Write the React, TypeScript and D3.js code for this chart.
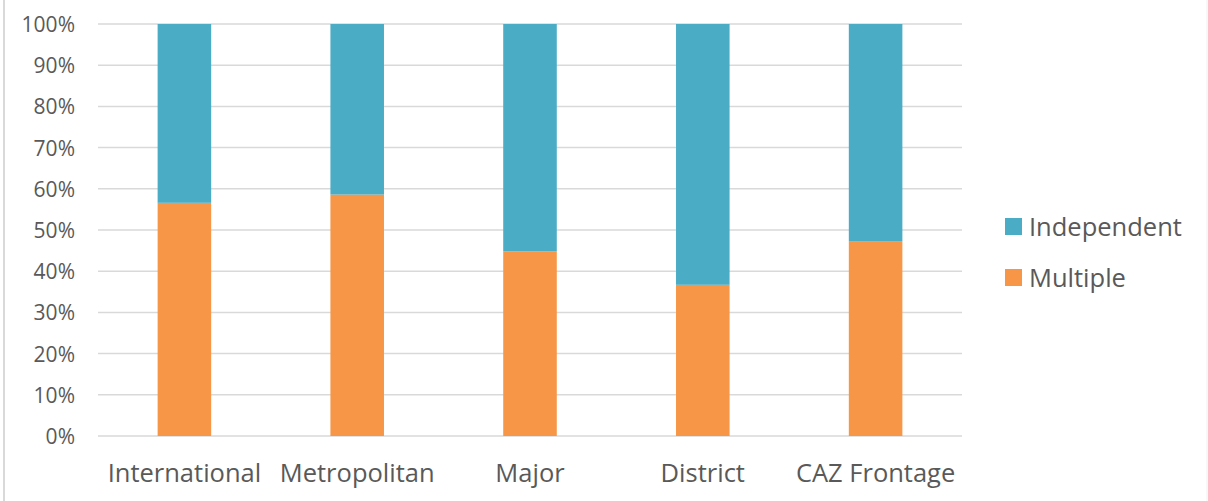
import React from "react";
import * as d3 from "d3";

const categories = ["International", "Metropolitan", "Major", "District", "CAZ Frontage"];
const multiple = [56.6, 58.6, 44.8, 36.7, 47.3];
const independent = [43.4, 41.4, 55.2, 63.3, 52.7];
const seriesKeys = ["multiple", "independent"];
const seriesNames = { multiple: "Multiple", independent: "Independent" };
const colors = { multiple: "#F79646", independent: "#4BACC6" };
const yTicks = [0, 10, 20, 30, 40, 50, 60, 70, 80, 90, 100];

const W = 1208;
const H = 501;
const plot = { left: 98, right: 962, top: 24, bottom: 436 };
const font = "'Open Sans', Lato, sans-serif";
const textColor = "#595959";

export default function App() {
  const rows = categories.map((c, i) => ({
    category: c,
    multiple: multiple[i],
    independent: independent[i],
  }));

  const layers = d3.stack().keys(seriesKeys).order(d3.stackOrderNone)(rows as any);

  const x = d3
    .scaleBand()
    .domain(categories)
    .range([plot.left, plot.right])
    .paddingInner(0.69)
    .paddingOuter(0.345);

  const y = d3.scaleLinear().domain([0, 100]).range([plot.bottom, plot.top]);

  const legendItems = ["independent", "multiple"];

  return (
    <svg
      width={W}
      height={H}
      style={{ position: "absolute", left: 0, top: 0, background: "#fff" }}
      fontFamily={font}
    >
      <rect x={0} y={0} width={W} height={H} fill="#fff" />
      <line x1={4} x2={4} y1={0} y2={H} stroke="#d9d9d9" strokeWidth={2} />
      <line x1={1207} x2={1207} y1={0} y2={H} stroke="#f0f0f0" strokeWidth={1} />

      {/* gridlines + y labels */}
      {yTicks.map((t) => (
        <g key={t}>
          <line
            x1={plot.left}
            x2={plot.right}
            y1={y(t)}
            y2={y(t)}
            stroke="#d9d9d9"
            strokeWidth={1.5}
          />
          <text
            x={75}
            y={y(t)}
            textAnchor="end"
            dominantBaseline="central"
            fontSize={21}
            fill={textColor}
          >
            {t}%
          </text>
        </g>
      ))}

      {/* bars */}
      {layers.map((layer) => (
        <g key={layer.key} fill={colors[layer.key]}>
          {layer.map((s: any) => (
            <rect
              key={s.data.category}
              x={x(s.data.category)}
              width={x.bandwidth()}
              y={y(s[1])}
              height={y(s[0]) - y(s[1])}
            />
          ))}
        </g>
      ))}

      {/* x labels */}
      {categories.map((c) => (
        <text
          key={c}
          x={(x(c) as number) + x.bandwidth() / 2}
          y={472}
          textAnchor="middle"
          dominantBaseline="central"
          fontSize={25.5}
          fill={textColor}
        >
          {c}
        </text>
      ))}

      {/* legend */}
      {legendItems.map((k, i) => (
        <g key={k} transform={`translate(1005, ${218 + i * 51})`}>
          <rect width={17} height={17} fill={colors[k]} />
          <text
            x={24}
            y={8}
            dominantBaseline="central"
            fontSize={25.5}
            fill={textColor}
          >
            {seriesNames[k]}
          </text>
        </g>
      ))}
    </svg>
  );
}
